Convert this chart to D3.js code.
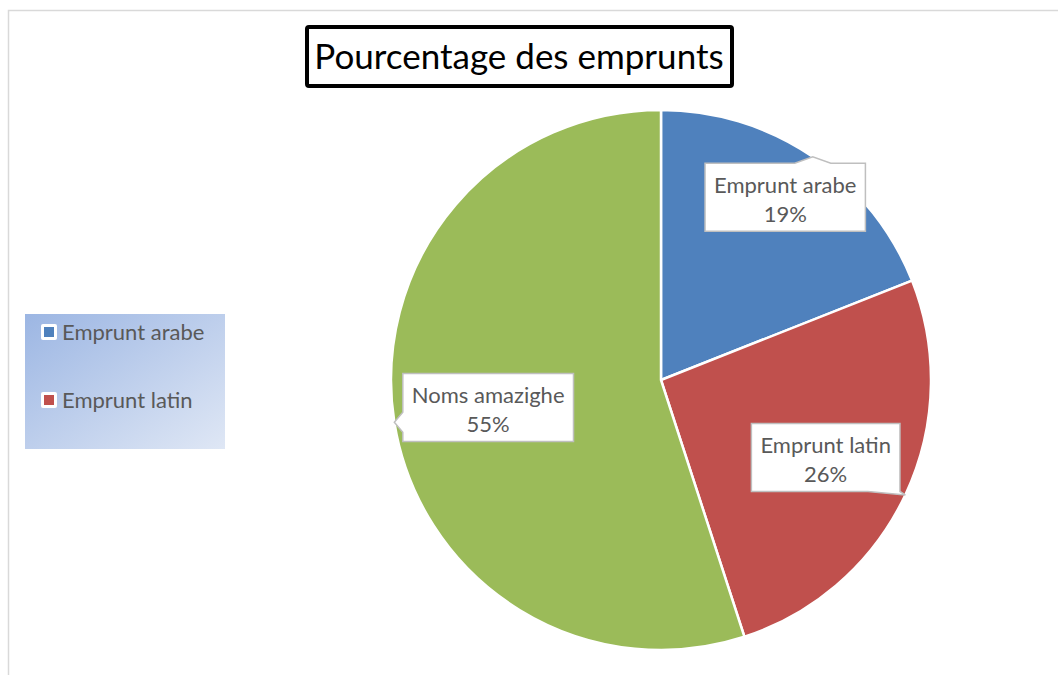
<!DOCTYPE html>
<html lang="fr">
<head>
    <meta charset="UTF-8">
    <title>Pourcentage des emprunts</title>
    <script src="https://cdn.jsdelivr.net/npm/d3@7"></script>
    <style>
        body { margin: 0; background: #fff; }
        text { font-family: Lato, "Open Sans", sans-serif; }
    </style>
</head>
<body>
<script>
    // données du graphique
    var categories = ["Emprunt arabe", "Emprunt latin", "Noms amazighe"];
    var values = [19, 26, 55];
    var colors = ["#4F81BD", "#C0504D", "#9BBB59"];
    var legendItems = ["Emprunt arabe", "Emprunt latin"];   // la légende n'affiche que deux entrées
    var labelRadius = [221, 182, 175];                        // distance des étiquettes au centre

    var w = 1058, h = 675;
    var cx = 661, cy = 380, r = 270;

    var svg = d3.select("body").append("svg")
        .attr("width", w)
        .attr("height", h);

    // cadre de la zone du graphique
    svg.append("rect")
        .attr("x", 8.5).attr("y", 10.5)
        .attr("width", w).attr("height", h)
        .attr("fill", "none")
        .attr("stroke", "#D9D9D9")
        .attr("stroke-width", 1.5);

    // titre
    var title = svg.append("g");
    title.append("rect")
        .attr("x", 307).attr("y", 27)
        .attr("width", 425).attr("height", 59)
        .attr("fill", "#fff")
        .attr("stroke", "#000")
        .attr("stroke-width", 4)
        .attr("rx", 2);
    title.append("text")
        .attr("x", 519).attr("y", 69)
        .attr("text-anchor", "middle")
        .attr("font-size", "35px")
        .attr("fill", "#000")
        .text("Pourcentage des emprunts");

    // camembert
    var pie = d3.pie().sort(null).value(function (d) { return d; });
    var arcs = pie(values);
    var arc = d3.arc().innerRadius(0).outerRadius(r);
    var edgeArc = d3.arc().innerRadius(r).outerRadius(r);

    var g = svg.append("g").attr("transform", "translate(" + cx + "," + cy + ")");

    g.selectAll("path.slice")
        .data(arcs)
        .enter()
        .append("path")
        .attr("class", "slice")
        .attr("d", arc)
        .attr("fill", function (d, i) { return colors[i]; })
        .attr("stroke", "#fff")
        .attr("stroke-width", 2.5);

    // étiquettes en bulle
    function calloutPath(x0, y0, x1, y1, tx, ty) {
        var hw = 18, p = [];
        if (ty < y0) {
            var m = Math.max(x0 + hw, Math.min(x1 - hw, tx));
            p = [[x0, y0], [m - hw, y0], [tx, ty], [m + hw, y0], [x1, y0], [x1, y1], [x0, y1]];
        } else if (ty > y1) {
            var m2 = Math.max(x0 + hw, Math.min(x1 - hw + 4, tx));
            p = [[x0, y0], [x1, y0], [x1, y1], [tx, ty], [m2 - hw, y1], [x0, y1]];
        } else if (tx < x0) {
            var m3 = Math.max(y0 + 10, Math.min(y1 - 10, ty));
            p = [[x0, y0], [x1, y0], [x1, y1], [x0, y1], [x0, m3 + 10], [tx, ty], [x0, m3 - 10]];
        } else {
            var m4 = Math.max(y0 + 10, Math.min(y1 - 10, ty));
            p = [[x0, y0], [x1, y0], [x1, m4 - 10], [tx, ty], [x1, m4 + 10], [x1, y1], [x0, y1]];
        }
        return "M" + p.map(function (q) { return q[0] + "," + q[1]; }).join("L") + "Z";
    }

    arcs.forEach(function (d, i) {
        var la = d3.arc().innerRadius(labelRadius[i]).outerRadius(labelRadius[i]);
        var c = la.centroid(d);
        var tip = edgeArc.centroid(d);
        var lg = g.append("g");
        var t = lg.append("text")
            .attr("text-anchor", "middle")
            .attr("font-size", "22px")
            .attr("fill", "#595959");
        t.append("tspan").attr("x", c[0]).attr("y", c[1] - 4).text(categories[i]);
        t.append("tspan").attr("x", c[0]).attr("y", c[1] + 25).text(values[i] + "%");
        var bb = t.node().getBBox();
        var padX = 9;
        var x0 = c[0] - bb.width / 2 - padX, x1 = c[0] + bb.width / 2 + padX;
        var y0 = c[1] - 34, y1 = c[1] + 34;
        lg.insert("path", "text")
            .attr("d", calloutPath(x0, y0, x1, y1, tip[0], tip[1]))
            .attr("fill", "#fff")
            .attr("stroke", "#BFBFBF")
            .attr("stroke-width", 1.5);
    });

    // légende
    var defs = svg.append("defs");
    var grad = defs.append("linearGradient")
        .attr("id", "legendGrad")
        .attr("x1", "0%").attr("y1", "0%")
        .attr("x2", "100%").attr("y2", "100%");
    grad.append("stop").attr("offset", "0%").attr("stop-color", "#9CB6E3");
    grad.append("stop").attr("offset", "100%").attr("stop-color", "#DFE7F5");

    var legend = svg.append("g");
    legend.append("rect")
        .attr("x", 25).attr("y", 314)
        .attr("width", 200).attr("height", 135)
        .attr("fill", "url(#legendGrad)");

    var ly = d3.scalePoint().domain(legendItems).range([332, 400]);

    var items = legend.selectAll("g.item")
        .data(legendItems)
        .enter()
        .append("g")
        .attr("class", "item")
        .attr("transform", function (d) { return "translate(0," + ly(d) + ")"; });

    items.append("rect")
        .attr("x", 41).attr("y", -8)
        .attr("width", 16).attr("height", 16)
        .attr("rx", 2)
        .attr("fill", "#fff");
    items.append("rect")
        .attr("x", 44).attr("y", -5)
        .attr("width", 10).attr("height", 10)
        .attr("fill", function (d) { return colors[categories.indexOf(d)]; });
    items.append("text")
        .attr("x", 62).attr("y", 8)
        .attr("font-size", "22px")
        .attr("fill", "#595959")
        .text(function (d) { return d; });
</script>
</body>
</html>
